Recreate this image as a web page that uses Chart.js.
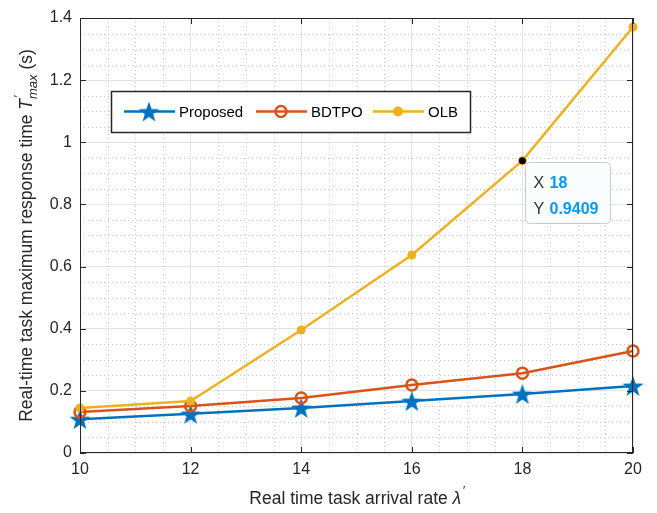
<!DOCTYPE html>
<html>
<head>
<meta charset="utf-8">
<script src="https://cdn.jsdelivr.net/npm/chart.js@4.4.1/dist/chart.umd.min.js"></script>
<style>
  html, body { margin: 0; padding: 0; background: #fff; }
  #wrap { width: 657px; height: 513px; }
</style>
</head>
<body>
<div id="wrap"><canvas id="chart" width="657" height="513"></canvas></div>
<script>
// values
const rates = [10, 12, 14, 16, 18, 20];
const proposed = [0.109, 0.126, 0.145, 0.167, 0.190, 0.216];
const bdtpo = [0.132, 0.151, 0.177, 0.219, 0.257, 0.328];
const olb = [0.145, 0.167, 0.396, 0.637, 0.9409, 1.371];
const seriesNames = ['Proposed', 'BDTPO', 'OLB'];
const yTicks = [0, 0.2, 0.4, 0.6, 0.8, 1, 1.2, 1.4];
const xTicks = [10, 12, 14, 16, 18, 20];
const tipIndex = 4; // data tip on OLB at x = 18

const BLUE = '#0072BD', ORANGE = '#D95319', YELLOW = '#EDB120';
const AXIS = '#262626';
const FONT = 'Arial, "Liberation Sans", Helvetica, sans-serif';

// filled five point star like matlab's pentagram marker
function makeStar(r, color) {
    const c = document.createElement('canvas');
    c.width = c.height = Math.ceil(r * 2 + 2);
    const g = c.getContext('2d');
    const cx = c.width / 2, cy = c.height / 2 + r * 0.1;
    g.beginPath();
    for (let i = 0; i < 10; i++) {
        const rr = i % 2 === 0 ? r : r * 0.4;
        const a = -Math.PI / 2 + i * Math.PI / 5;
        g.lineTo(cx + rr * Math.cos(a), cy + rr * Math.sin(a));
    }
    g.closePath();
    g.fillStyle = color;
    g.fill();
    return c;
}
const star = makeStar(11, BLUE);

function toPoints(arr) {
    return arr.map((v, i) => ({ x: rates[i], y: v }));
}

// box, inward ticks, minor grid, legend, data tip and axis titles
const matlabLook = {
    id: 'matlabLook',
    beforeDatasetsDraw(chart) {
        const ctx = chart.ctx, a = chart.chartArea;
        const xs = chart.scales.x, ys = chart.scales.y;
        ctx.save();
        ctx.strokeStyle = '#c4c4c4';
        ctx.lineWidth = 1;
        ctx.setLineDash([1, 3]);
        for (let v = 10; v <= 20.001; v += 0.5) {
            if (Math.abs(v % 2) < 1e-6) continue;
            const px = Math.round(xs.getPixelForValue(v)) + 0.5;
            ctx.beginPath(); ctx.moveTo(px, a.top); ctx.lineTo(px, a.bottom); ctx.stroke();
        }
        for (let k = 0; k <= 28; k++) {
            if (k % 4 === 0) continue;
            const py = Math.round(ys.getPixelForValue(k * 0.05)) + 0.5;
            ctx.beginPath(); ctx.moveTo(a.left, py); ctx.lineTo(a.right, py); ctx.stroke();
        }
        ctx.restore();
    },
    afterDatasetsDraw(chart) {
        const ctx = chart.ctx, a = chart.chartArea;
        const xs = chart.scales.x, ys = chart.scales.y;
        ctx.save();
        // axes box
        ctx.strokeStyle = AXIS;
        ctx.lineWidth = 1;
        ctx.strokeRect(a.left + 0.5, a.top + 0.5, a.right - a.left - 1, a.bottom - a.top - 1);
        // inward ticks
        ctx.beginPath();
        xTicks.forEach(v => {
            const px = Math.round(xs.getPixelForValue(v)) + 0.5;
            ctx.moveTo(px, a.bottom); ctx.lineTo(px, a.bottom - 6);
            ctx.moveTo(px, a.top); ctx.lineTo(px, a.top + 6);
        });
        yTicks.forEach(v => {
            const py = Math.round(ys.getPixelForValue(v)) + 0.5;
            ctx.moveTo(a.left, py); ctx.lineTo(a.left + 6, py);
            ctx.moveTo(a.right, py); ctx.lineTo(a.right - 6, py);
        });
        ctx.stroke();

        // legend box
        const lx = 111, ly = 91, lw = 359, lh = 41, cy = ly + lh / 2;
        ctx.fillStyle = '#fff';
        ctx.fillRect(lx, ly, lw, lh);
        ctx.strokeStyle = '#262626';
        ctx.lineWidth = 1.5;
        ctx.strokeRect(lx + 0.5, ly + 0.5, lw, lh);
        const entries = [
            { x: 124, color: BLUE, text: seriesNames[0], mark: 'star' },
            { x: 256, color: ORANGE, text: seriesNames[1], mark: 'circle' },
            { x: 373, color: YELLOW, text: seriesNames[2], mark: 'dot' }
        ];
        ctx.font = '15px ' + FONT;
        ctx.textBaseline = 'middle';
        entries.forEach(e => {
            ctx.strokeStyle = e.color;
            ctx.lineWidth = 2.5;
            ctx.beginPath(); ctx.moveTo(e.x, cy); ctx.lineTo(e.x + 51, cy); ctx.stroke();
            const mx = e.x + 25;
            if (e.mark === 'star') {
                ctx.drawImage(star, mx - star.width / 2, cy - star.height / 2);
            } else if (e.mark === 'circle') {
                ctx.lineWidth = 2.5;
                ctx.beginPath(); ctx.arc(mx, cy, 5.5, 0, Math.PI * 2); ctx.stroke();
            } else {
                ctx.fillStyle = e.color;
                ctx.beginPath(); ctx.arc(mx, cy, 5, 0, Math.PI * 2); ctx.fill();
            }
            ctx.fillStyle = '#000';
            ctx.textAlign = 'left';
            ctx.fillText(e.text, e.x + 55, cy + 1);
        });

        // data tip
        const tx = xs.getPixelForValue(rates[tipIndex]);
        const ty = ys.getPixelForValue(olb[tipIndex]);
        ctx.fillStyle = '#000';
        ctx.beginPath(); ctx.arc(tx, ty, 3.5, 0, Math.PI * 2); ctx.fill();
        const bx = Math.round(tx) + 3.5, by = Math.round(ty) + 1.5, bw = 85, bh = 61;
        ctx.beginPath();
        ctx.roundRect(bx, by, bw, bh, 4);
        ctx.fillStyle = '#fbfcfe';
        ctx.fill();
        ctx.strokeStyle = '#c9cbd0';
        ctx.lineWidth = 1;
        ctx.stroke();
        ctx.font = '16px ' + FONT;
        ctx.textAlign = 'left';
        ctx.fillStyle = '#333';
        ctx.fillText('X', bx + 8, by + 21);
        ctx.fillText('Y', bx + 8, by + 47);
        ctx.font = 'bold 16px ' + FONT;
        ctx.fillStyle = '#0a96f5';
        ctx.fillText(String(rates[tipIndex]), bx + 24, by + 21);
        ctx.fillText(olb[tipIndex].toFixed(4), bx + 24, by + 47);

        // axis titles with italic symbols
        const midX = (a.left + a.right) / 2, midY = (a.top + a.bottom) / 2;
        const base = '17.5px ' + FONT, ital = 'italic 17.5px ' + FONT, small = 'italic 13px ' + FONT;
        ctx.fillStyle = AXIS;
        ctx.textBaseline = 'alphabetic';
        function drawParts(parts) {
            let w = 0;
            parts.forEach(p => { ctx.font = p.f; p.w = ctx.measureText(p.t).width; w += p.adv === false ? 0 : p.w; });
            let x = -w / 2;
            parts.forEach(p => {
                ctx.font = p.f;
                ctx.fillText(p.t, x + (p.dx || 0), p.dy || 0);
                if (p.adv !== false) x += p.w;
            });
        }
        ctx.save();
        ctx.translate(32, midY);
        ctx.rotate(-Math.PI / 2);
        drawParts([
            { t: 'Real-time task maximum response time ', f: base },
            { t: 'T', f: ital },
            { t: '\u2032', f: small, dy: -9, dx: 1, adv: false },
            { t: 'max', f: small, dy: 5 },
            { t: ' (s)', f: base }
        ]);
        ctx.restore();
        ctx.save();
        ctx.translate(midX, 504);
        drawParts([
            { t: 'Real time task arrival rate ', f: base },
            { t: '\u03bb', f: ital },
            { t: '\u2032', f: small, dy: -9, dx: 1 }
        ]);
        ctx.restore();
        ctx.restore();
    }
};

const ctx = document.getElementById('chart').getContext('2d');
const chart = new Chart(ctx, {
    type: 'line',
    data: {
        datasets: [
            {
                label: seriesNames[0], data: toPoints(proposed), borderColor: BLUE, backgroundColor: BLUE,
                borderWidth: 2.5, pointStyle: star, order: 3, clip: false
            },
            {
                label: seriesNames[1], data: toPoints(bdtpo), borderColor: ORANGE, backgroundColor: 'rgba(0,0,0,0)',
                borderWidth: 2.5, pointRadius: 5.5, pointBorderWidth: 2.5, order: 2, clip: false
            },
            {
                label: seriesNames[2], data: toPoints(olb), borderColor: YELLOW, backgroundColor: YELLOW,
                borderWidth: 2.5, pointRadius: 4.5, pointBorderWidth: 0, order: 1, clip: false
            }
        ]
    },
    options: {
        responsive: false,
        animation: false,
        events: [],
        layout: { padding: { left: 0, right: 24, top: 18, bottom: 0 } },
        plugins: { legend: { display: false }, tooltip: { enabled: false } },
        scales: {
            x: {
                type: 'linear', min: 10, max: 20,
                afterBuildTicks(s) { s.ticks = xTicks.map(v => ({ value: v })); },
                afterFit(s) { s.height = 60; },
                grid: { color: '#e3e3e3', drawTicks: false },
                border: { display: false },
                ticks: { color: AXIS, padding: 7, font: { size: 16, family: FONT }, maxRotation: 0 }
            },
            y: {
                type: 'linear', min: 0, max: 1.4,
                afterBuildTicks(s) { s.ticks = yTicks.map(v => ({ value: v })); },
                afterFit(s) { s.width = 80; },
                grid: { color: '#e3e3e3', drawTicks: false },
                border: { display: false },
                ticks: {
                    color: AXIS, padding: 8, font: { size: 16, family: FONT },
                    callback: v => String(Math.round(v * 10) / 10)
                }
            }
        }
    },
    plugins: [matlabLook]
});
</script>
</body>
</html>
